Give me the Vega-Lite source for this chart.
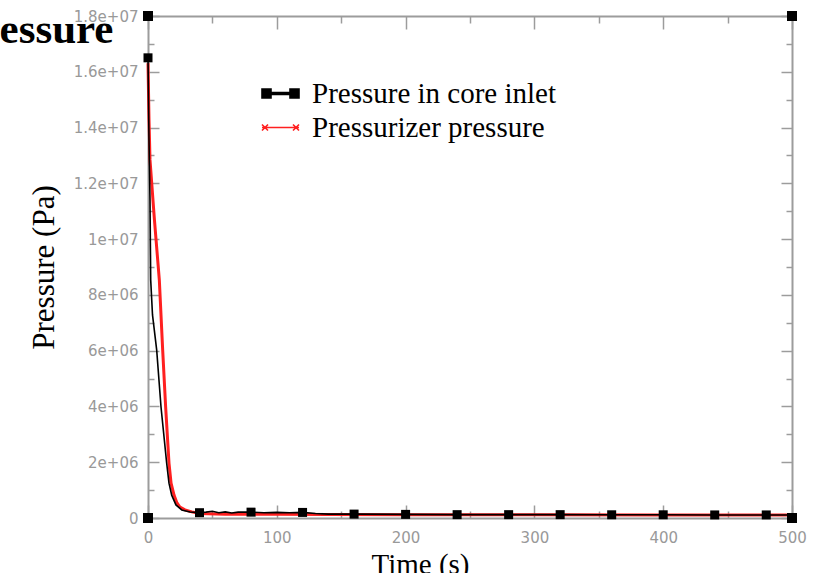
{
  "$schema": "https://vega.github.io/schema/vega-lite/v6.json",
  "autosize": {"type": "none"},
  "width": 644,
  "height": 502,
  "padding": {"left": 148, "top": 16, "right": 41, "bottom": 55},
  "background": "white",
  "title": {
    "text": "Pressure",
    "anchor": "start",
    "frame": "group",
    "font": "Liberation Serif",
    "fontWeight": "bold",
    "fontSize": 43,
    "color": "#000000",
    "baseline": "alphabetic",
    "offset": 0,
    "dx": -193,
    "dy": 77
  },
  "config": {
    "view": {"stroke": null},
    "axis": {
      "grid": false,
      "domainColor": "#9c9c9c",
      "domainWidth": 2,
      "tickColor": "#9c9c9c",
      "tickWidth": 1.5,
      "labelFont": "DejaVu Sans",
      "labelFontSize": 15,
      "labelColor": "#999999",
      "labelFlush": false,
      "titleFont": "Liberation Serif",
      "titleFontWeight": "normal",
      "titleColor": "#000000"
    }
  },
  "datasets": {
    "pressure": [
      {"t": 0, "p": 16500000, "series": "Pressure in core inlet"},
      {"t": 0.78, "p": 13550000, "series": "Pressure in core inlet"},
      {"t": 1.55, "p": 11400000, "series": "Pressure in core inlet"},
      {"t": 2.1, "p": 8530000, "series": "Pressure in core inlet"},
      {"t": 3.5, "p": 7280000, "series": "Pressure in core inlet"},
      {"t": 6.75, "p": 6020000, "series": "Pressure in core inlet"},
      {"t": 10.1, "p": 3980000, "series": "Pressure in core inlet"},
      {"t": 14.5, "p": 1970000, "series": "Pressure in core inlet"},
      {"t": 16.3, "p": 1250000, "series": "Pressure in core inlet"},
      {"t": 18.4, "p": 820000, "series": "Pressure in core inlet"},
      {"t": 21.7, "p": 470000, "series": "Pressure in core inlet"},
      {"t": 26.2, "p": 290000, "series": "Pressure in core inlet"},
      {"t": 32.6, "p": 215000, "series": "Pressure in core inlet"},
      {"t": 40, "p": 190000, "series": "Pressure in core inlet"},
      {"t": 45, "p": 210000, "series": "Pressure in core inlet"},
      {"t": 50, "p": 240000, "series": "Pressure in core inlet"},
      {"t": 55, "p": 190000, "series": "Pressure in core inlet"},
      {"t": 60, "p": 220000, "series": "Pressure in core inlet"},
      {"t": 65, "p": 180000, "series": "Pressure in core inlet"},
      {"t": 70, "p": 210000, "series": "Pressure in core inlet"},
      {"t": 80, "p": 210000, "series": "Pressure in core inlet"},
      {"t": 90, "p": 190000, "series": "Pressure in core inlet"},
      {"t": 100, "p": 200000, "series": "Pressure in core inlet"},
      {"t": 110, "p": 190000, "series": "Pressure in core inlet"},
      {"t": 120, "p": 200000, "series": "Pressure in core inlet"},
      {"t": 130, "p": 160000, "series": "Pressure in core inlet"},
      {"t": 140, "p": 140000, "series": "Pressure in core inlet"},
      {"t": 160, "p": 140000, "series": "Pressure in core inlet"},
      {"t": 200, "p": 130000, "series": "Pressure in core inlet"},
      {"t": 240, "p": 120000, "series": "Pressure in core inlet"},
      {"t": 280, "p": 120000, "series": "Pressure in core inlet"},
      {"t": 320, "p": 120000, "series": "Pressure in core inlet"},
      {"t": 360, "p": 115000, "series": "Pressure in core inlet"},
      {"t": 400, "p": 115000, "series": "Pressure in core inlet"},
      {"t": 440, "p": 110000, "series": "Pressure in core inlet"},
      {"t": 480, "p": 110000, "series": "Pressure in core inlet"},
      {"t": 500, "p": 105000, "series": "Pressure in core inlet"},
      {"t": 0, "p": 16310000, "series": "Pressurizer pressure"},
      {"t": 0.78, "p": 14270000, "series": "Pressurizer pressure"},
      {"t": 1.55, "p": 12840000, "series": "Pressurizer pressure"},
      {"t": 5.0, "p": 10690000, "series": "Pressurizer pressure"},
      {"t": 8.8, "p": 8530000, "series": "Pressurizer pressure"},
      {"t": 11.4, "p": 6020000, "series": "Pressurizer pressure"},
      {"t": 13.7, "p": 3980000, "series": "Pressurizer pressure"},
      {"t": 16.3, "p": 1970000, "series": "Pressurizer pressure"},
      {"t": 17.9, "p": 1250000, "series": "Pressurizer pressure"},
      {"t": 20.2, "p": 820000, "series": "Pressurizer pressure"},
      {"t": 22.5, "p": 540000, "series": "Pressurizer pressure"},
      {"t": 24.8, "p": 390000, "series": "Pressurizer pressure"},
      {"t": 28.7, "p": 290000, "series": "Pressurizer pressure"},
      {"t": 34, "p": 220000, "series": "Pressurizer pressure"},
      {"t": 40, "p": 160000, "series": "Pressurizer pressure"},
      {"t": 60, "p": 135000, "series": "Pressurizer pressure"},
      {"t": 100, "p": 130000, "series": "Pressurizer pressure"},
      {"t": 140, "p": 125000, "series": "Pressurizer pressure"},
      {"t": 200, "p": 120000, "series": "Pressurizer pressure"},
      {"t": 300, "p": 115000, "series": "Pressurizer pressure"},
      {"t": 400, "p": 110000, "series": "Pressurizer pressure"},
      {"t": 500, "p": 105000, "series": "Pressurizer pressure"}
    ],
    "corners": [
      {"t": 0, "p": 0},
      {"t": 0, "p": 18000000},
      {"t": 500, "p": 18000000},
      {"t": 500, "p": 0}
    ]
  },
  "resolve": {"axis": {"x": "independent", "y": "independent"}},
  "layer": [
    {
      "data": {"name": "pressure"},
      "transform": [{"filter": "datum.series === 'Pressurizer pressure'"}],
      "mark": {"type": "line", "strokeWidth": 3},
      "encoding": {
        "x": {
          "field": "t", "type": "quantitative",
          "scale": {"domain": [0, 500], "nice": false},
          "axis": {
            "orient": "bottom",
            "values": [0, 100, 200, 300, 400, 500],
            "tickSize": -13,
            "labelPadding": 25,
            "labelBaseline": "top",
            "title": "Time (s)",
            "titleFontSize": 29,
            "titleX": 272,
            "titleY": 55,
            "titleBaseline": "alphabetic",
            "titleAlign": "center"
          }
        },
        "y": {
          "field": "p", "type": "quantitative",
          "scale": {"domain": [0, 18000000], "nice": false},
          "axis": {
            "orient": "left",
            "values": [0, 2000000, 4000000, 6000000, 8000000, 10000000, 12000000, 14000000, 16000000, 18000000],
            "tickSize": -11,
            "labelPadding": 21,
            "labelExpr": "datum.value == 0 ? '0' : replace(format(datum.value, '.2~e'), 'e+', 'e+0')",
            "title": "Pressure (Pa)",
            "titleFontSize": 31,
            "titleAngle": 270,
            "titleX": -95,
            "titleY": 251,
            "titleBaseline": "alphabetic",
            "titleAlign": "center"
          }
        },
        "color": {
          "field": "series", "type": "nominal",
          "scale": {"domain": ["Pressure in core inlet", "Pressurizer pressure"], "range": ["#000000", "#ff2020"]},
          "legend": {
            "orient": "none",
            "legendX": 118,
            "legendY": 63,
            "title": null,
            "padding": 0,
            "symbolSize": 400,
            "labelFont": "Liberation Serif",
            "labelFontSize": 29,
            "labelColor": "#000000",
            "labelOffset": 17,
            "labelLimit": 400,
            "rowPadding": 4,
            "encode": {
              "symbols": {
                "update": {
                  "shape": {"signal": "datum.value === 'Pressure in core inlet' ? 'M-1.85,-0.45H-0.95V0.45H-1.85Z M0.95,-0.45H1.85V0.45H0.95Z M-0.95,-0.1H0.95V0.1H-0.95Z' : 'M-1.85,0H1.85 M-1.85,-0.3L-1.25,0.3 M-1.85,0.3L-1.25,-0.3 M1.25,-0.3L1.85,0.3 M1.25,0.3L1.85,-0.3'"},
                  "fill": {"signal": "datum.value === 'Pressure in core inlet' ? '#000000' : 'transparent'"},
                  "stroke": {"signal": "datum.value === 'Pressure in core inlet' ? 'transparent' : '#ff2020'"},
                  "strokeWidth": {"value": 1.6},
                  "opacity": {"value": 1}
                }
              }
            }
          }
        }
      }
    },
    {
      "data": {"name": "pressure"},
      "transform": [{"filter": "datum.series === 'Pressure in core inlet'"}],
      "mark": {"type": "line", "strokeWidth": 1.6},
      "encoding": {
        "x": {
          "field": "t", "type": "quantitative",
          "axis": {"orient": "top", "values": [0, 100, 200, 300, 400, 500], "tickSize": -13, "labels": false, "title": null}
        },
        "y": {
          "field": "p", "type": "quantitative",
          "axis": {"orient": "right", "values": [0, 2000000, 4000000, 6000000, 8000000, 10000000, 12000000, 14000000, 16000000, 18000000], "tickSize": -11, "labels": false, "title": null}
        },
        "color": {"field": "series", "type": "nominal"}
      }
    },
    {
      "data": {"name": "corners"},
      "mark": {"type": "point", "shape": "square", "filled": true, "color": "#000000", "opacity": 1, "size": 100},
      "encoding": {
        "x": {
          "field": "t", "type": "quantitative",
          "axis": {"orient": "bottom", "values": [50, 150, 250, 350, 450], "tickSize": -7, "labels": false, "domain": false, "title": null}
        },
        "y": {
          "field": "p", "type": "quantitative",
          "axis": {"orient": "left", "values": [1000000, 3000000, 5000000, 7000000, 9000000, 11000000, 13000000, 15000000, 17000000], "tickSize": -6, "labels": false, "domain": false, "title": null}
        }
      }
    },
    {
      "data": {"name": "pressure"},
      "transform": [{"filter": "datum.series === 'Pressure in core inlet' && datum.t % 40 == 0"}],
      "mark": {"type": "point", "shape": "square", "filled": true, "color": "#000000", "opacity": 1, "size": 81},
      "encoding": {
        "x": {
          "field": "t", "type": "quantitative",
          "axis": {"orient": "top", "values": [50, 150, 250, 350, 450], "tickSize": -7, "labels": false, "domain": false, "title": null}
        },
        "y": {
          "field": "p", "type": "quantitative",
          "axis": {"orient": "right", "values": [1000000, 3000000, 5000000, 7000000, 9000000, 11000000, 13000000, 15000000, 17000000], "tickSize": -6, "labels": false, "domain": false, "title": null}
        }
      }
    }
  ]
}
